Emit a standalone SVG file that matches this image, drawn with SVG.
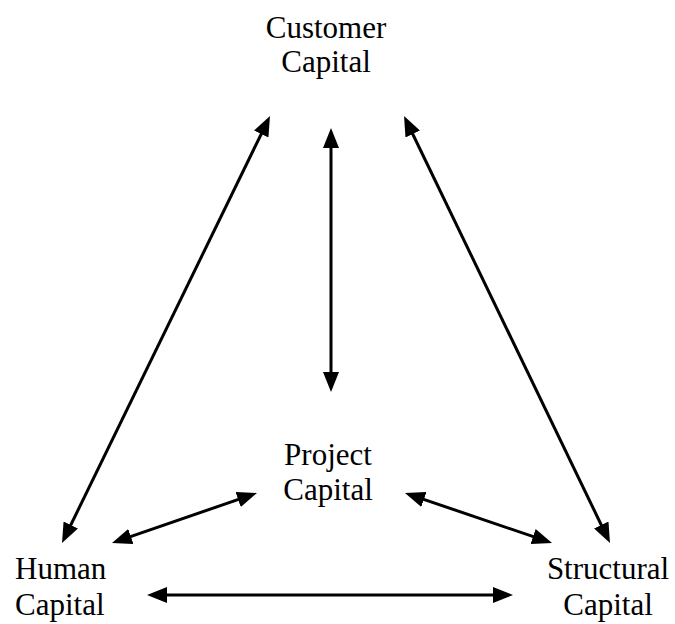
<svg xmlns="http://www.w3.org/2000/svg" width="675" height="624" viewBox="0 0 675 624">
<style>
text{font-family:"Liberation Serif","Times New Roman",serif;font-size:31px;fill:#000}
.c{stroke:#000;stroke-width:3;fill:none;marker-start:url(#ah);marker-end:url(#ah)}
</style>
<defs>
<marker id="ah" markerUnits="userSpaceOnUse" markerWidth="20" markerHeight="16" refX="15" refY="8" orient="auto-start-reverse" viewBox="0 0 20 16">
<path d="M0,0 L20,8 L0,16 z" fill="#000"/>
</marker>
</defs>
<rect width="675" height="624" fill="#fff"/>
<g id="connectors">
<line class="c" x1="267.8" y1="120.5" x2="64.2" y2="538.5"/>
<line class="c" x1="406.2" y1="120.5" x2="607.8" y2="538.5"/>
<line class="c" x1="331" y1="133" x2="331" y2="387"/>
<line class="c" x1="116.7" y1="541.4" x2="252.3" y2="494.6"/>
<line class="c" x1="409.7" y1="494.6" x2="547.3" y2="541.4"/>
<line class="c" x1="152" y1="595" x2="508" y2="595"/>
</g>
<g id="customer">
<text x="326" y="38" text-anchor="middle">Customer</text>
<text x="326" y="72" text-anchor="middle">Capital</text>
</g>
<g id="project">
<text x="328" y="465" text-anchor="middle">Project</text>
<text x="328" y="500" text-anchor="middle">Capital</text>
</g>
<g id="human">
<text x="15" y="579">Human</text>
<text x="15" y="615">Capital</text>
</g>
<g id="structural">
<text x="608" y="579" text-anchor="middle">Structural</text>
<text x="608" y="615" text-anchor="middle">Capital</text>
</g>
</svg>
